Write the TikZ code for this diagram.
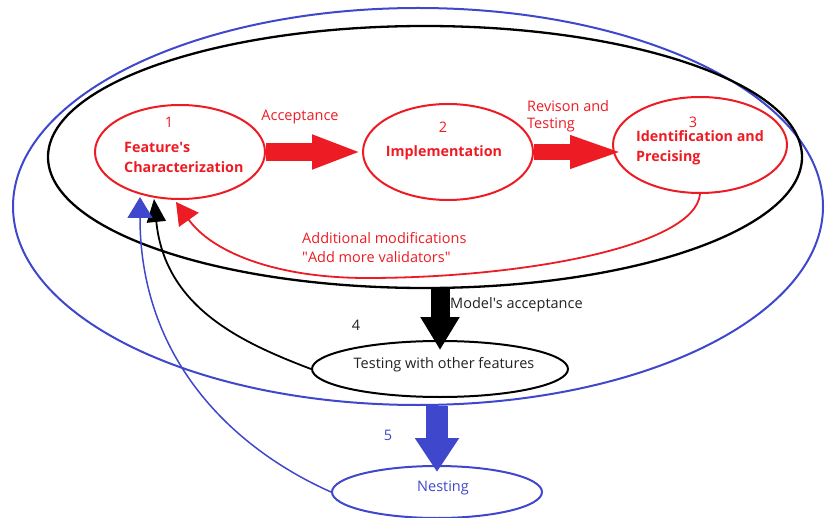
\documentclass[tikz,border=0pt]{standalone}
\usepackage{fontspec}
\setmainfont{Open Sans}
\usetikzlibrary{arrows.meta,shapes.geometric,calc}
\definecolor{pred}{RGB}{237,28,36}
\definecolor{pblue}{RGB}{63,72,204}
\definecolor{ptext}{RGB}{34,34,34}
\begin{document}
\begin{tikzpicture}[x=1pt,y=1pt,
  ell/.style={ellipse, draw, inner sep=0pt, line width=2pt},
  lbl/.style={inner sep=0pt, font=\fontsize{14.5}{19}\selectfont},
  blbl/.style={inner sep=0pt, font=\fontsize{14.3}{20}\selectfont\bfseries},
  curve/.style={line width=1.8pt}]
\useasboundingbox (0,0) rectangle (826,517);
% outer ellipses
\node[ell, pblue, minimum width=810pt, minimum height=397pt] (Blue) at (418,310.5) {};
\node[ell, black, line width=2.3pt, minimum width=754pt, minimum height=262pt] (Big) at (425,360) {};
% red ellipses
\node[ell, pred, minimum width=170pt, minimum height=94pt] (E1) at (180,365) {};
\node[ell, pred, minimum width=170pt, minimum height=96pt] (E2) at (448,365) {};
\node[ell, pred, minimum width=174pt, minimum height=96pt] (E3) at (700,372) {};
\node[ell, black, minimum width=256pt, minimum height=56pt] (Test) at (440,148) {};
\node[ell, pblue, minimum width=210pt, minimum height=52pt] (Nest) at (437,25) {};
% texts
\node[lbl, pred] (n1) at (169,395) {1};
\node[blbl, pred, anchor=west, align=left] (t1) at (124,360) {Feature\textquotesingle s\\Characterization};
\node[lbl, pred] (n2) at (443,390) {2};
\node[blbl, pred] (t2) at (444,364) {Implementation};
\node[lbl, pred] (n3) at (693,395) {3};
\node[blbl, pred, anchor=west, align=left] (t3) at (636,369.5) {Identification and\\Precising};
\node[lbl, pred] (acc) at (300,400) {Acceptance};
\node[lbl, pred, anchor=west, align=left, font=\fontsize{14.5}{17}\selectfont] (rev) at (527,400.5) {Revison and\\Testing};
\node[lbl, pred, anchor=west, align=left] (add) at (302,269.5) {Additional modifications\\\textquotedbl Add more validators\textquotedbl};
\node[lbl, ptext, anchor=west] (mod) at (450,212) {Model\textquotesingle s acceptance};
\node[lbl, ptext] (n4) at (356,192) {4};
\node[lbl, ptext] (tt) at (444,152) {Testing with other features};
\node[lbl, pblue] (n5) at (388,82) {5};
\node[lbl, pblue] (nt) at (443,29) {Nesting};
% block arrows
\coordinate (r2end) at (625,365);
\coordinate (bstart) at (Test.north |- Big.south);
\coordinate (bend) at (440,167);
\coordinate (ustart) at (Nest.north |- Blue.south);
\coordinate (uend) at (437,45);
\draw[pred, line width=18pt, -{Triangle[length=50pt,width=31pt]}] (E1.east) -- (E2.west);
\draw[pred, line width=16pt, -{Triangle[length=55pt,width=29pt]}] (E2.east) -- (r2end);
\draw[black, line width=19pt, -{Triangle[length=33pt,width=37pt]}] (bstart) -- (bend);
\draw[pblue, line width=22pt, -{Triangle[length=34pt,width=42pt]}] (ustart) -- (uend);
% curved arrows
\coordinate (redtip) at (176,315);
\coordinate (blacktip) at (154,318);
\coordinate (bluetip) at (140,320);
\draw[pred, curve, -{Triangle[length=22pt,width=24pt]}] (E3.south) .. controls (695,270) and (520,239) .. (367,239) .. controls (275,239) and (212,265) .. (redtip);
\draw[black, curve, -{Triangle[length=23pt,width=19pt]}] (Test.west) .. controls (240,175) and (165,210) .. (blacktip);
\draw[pblue, line width=1.5pt, -{Triangle[length=21pt,width=25pt]}] (Nest.west) .. controls (230,70) and (140,160) .. (bluetip);
\end{tikzpicture}
\end{document}
